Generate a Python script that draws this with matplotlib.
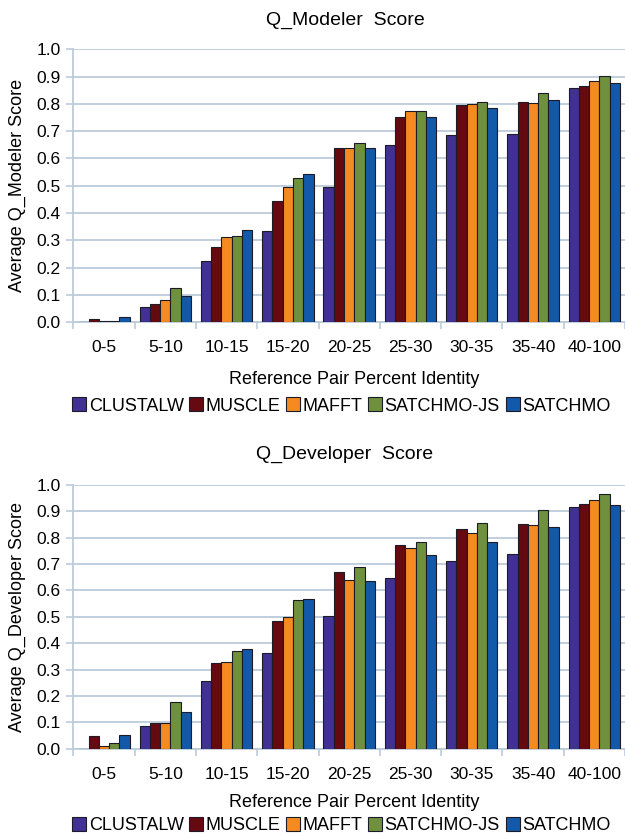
import matplotlib
matplotlib.use("Agg")
import matplotlib.pyplot as plt
import numpy as np
from matplotlib.lines import Line2D

plt.rcParams["font.family"] = ["Liberation Sans", "DejaVu Sans"]

categories = ["0-5", "5-10", "10-15", "15-20", "20-25", "25-30", "30-35", "35-40", "40-100"]
methods = ["CLUSTALW", "MUSCLE", "MAFFT", "SATCHMO-JS", "SATCHMO"]
colors = ["#413192", "#640A10", "#F58B20", "#6F903D", "#1259A9"]

# Q_Modeler scores, one list per method
modeler_clustalw = [0.0, 0.056, 0.226, 0.335, 0.496, 0.651, 0.685, 0.690, 0.858]
modeler_muscle = [0.012, 0.066, 0.276, 0.443, 0.637, 0.753, 0.796, 0.806, 0.867]
modeler_mafft = [0.006, 0.082, 0.311, 0.496, 0.637, 0.772, 0.801, 0.802, 0.884]
modeler_satchmo_js = [0.005, 0.125, 0.317, 0.527, 0.656, 0.772, 0.805, 0.839, 0.901]
modeler_satchmo = [0.021, 0.096, 0.337, 0.542, 0.640, 0.750, 0.783, 0.813, 0.877]

# Q_Developer scores
developer_clustalw = [0.0, 0.085, 0.257, 0.362, 0.503, 0.647, 0.712, 0.738, 0.917]
developer_muscle = [0.049, 0.099, 0.326, 0.483, 0.670, 0.771, 0.833, 0.853, 0.928]
developer_mafft = [0.010, 0.099, 0.329, 0.499, 0.638, 0.760, 0.817, 0.847, 0.943]
developer_satchmo_js = [0.023, 0.178, 0.370, 0.564, 0.690, 0.784, 0.856, 0.905, 0.965]
developer_satchmo = [0.052, 0.140, 0.378, 0.566, 0.637, 0.735, 0.784, 0.842, 0.924]

yticks = [0.0, 0.1, 0.2, 0.3, 0.4, 0.5, 0.6, 0.7, 0.8, 0.9, 1.0]

GRID = "#BCCBDA"
FS = 12.5


def draw_panel(fig, rect, series, title, ylabel, title_y, xlabel_y, legend_y):
    ax = fig.add_axes(rect)
    x = np.arange(len(categories)) + 0.5
    width = 0.168
    for k, (vals, c) in enumerate(zip(series, colors)):
        ax.bar(x + (k - 2) * width, vals, width=width, color=c,
               edgecolor="#1c1c28", linewidth=0.8, zorder=3)

    ax.set_xlim(0, len(categories))
    ax.set_ylim(0, 1.0)
    ax.set_yticks(yticks)
    ax.set_yticklabels([f"{v:.1f}" for v in yticks], fontsize=FS)
    ax.set_xticks(x)
    ax.set_xticklabels(categories, fontsize=FS)
    ax.set_xticks(np.arange(len(categories) + 1), minor=True)
    ax.tick_params(axis="x", which="major", length=0, pad=13)
    ax.tick_params(axis="x", which="minor", length=5, color=GRID, width=1.2)
    ax.tick_params(axis="y", length=5, color=GRID, width=1.2, pad=4)
    ax.grid(axis="y", color=GRID, linewidth=1.3, zorder=0)
    for s in ["top", "right"]:
        ax.spines[s].set_visible(False)
    for s in ["left", "bottom"]:
        ax.spines[s].set_color(GRID)
        ax.spines[s].set_linewidth(1.3)

    ax.set_ylabel(ylabel, fontsize=13, va="center")
    ax.yaxis.set_label_coords(0.028, rect[1] + rect[3] / 2, transform=fig.transFigure)
    ax.set_xlabel("Reference Pair Percent Identity", fontsize=13, va="center")
    ax.xaxis.set_label_coords(0.566, xlabel_y, transform=fig.transFigure)
    fig.text(0.552, title_y, title, ha="center", va="center", fontsize=14)

    handles = [Line2D([], [], marker="s", linestyle="none", markersize=10,
                      markerfacecolor=c, markeredgecolor="#1c1c28", markeredgewidth=0.8)
               for c in colors]
    fig.legend(handles, methods, loc="center", bbox_to_anchor=(0.546, legend_y),
               ncol=5, frameon=False, fontsize=13, handletextpad=0.12,
               columnspacing=0.3, handlelength=0.8, borderaxespad=0)
    return ax


fig = plt.figure(figsize=(6.25, 8.36), dpi=100)

draw_panel(fig, [0.1173, 0.6145, 0.8827, 0.3266],
           [modeler_clustalw, modeler_muscle, modeler_mafft, modeler_satchmo_js, modeler_satchmo],
           "Q_Modeler  Score", "Average Q_Modeler Score", 0.976, 0.5455, 0.514)
draw_panel(fig, [0.1173, 0.1044, 0.8827, 0.3155],
           [developer_clustalw, developer_muscle, developer_mafft, developer_satchmo_js, developer_satchmo],
           "Q_Developer  Score", "Average Q_Developer Score", 0.457, 0.0395, 0.012)

fig.savefig("out.png", dpi=100)
